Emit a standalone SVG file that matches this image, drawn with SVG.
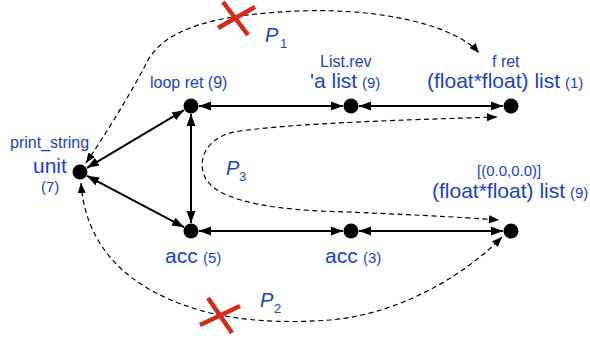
<svg xmlns="http://www.w3.org/2000/svg" width="590" height="343" viewBox="0 0 590 343">
<style>
text{font-family:"Liberation Sans",Arial,sans-serif;fill:#1c3fcc}
.s{font-size:16px}
.b{font-size:21px}
.n{font-size:15px}
.p{font-size:20px;font-style:italic}
.sub{font-size:13px}
.e{stroke:#000;stroke-width:2;fill:none;marker-start:url(#ah);marker-end:url(#ah)}
.d{stroke:#000;stroke-width:1.2;fill:none;stroke-dasharray:5 3.5;marker-start:url(#dh);marker-end:url(#dh)}
.x{stroke:#d42a1a;stroke-width:4.5}
</style>
<defs>
<marker id="ah" markerUnits="userSpaceOnUse" markerWidth="13" markerHeight="10" refX="12" refY="4.5" orient="auto-start-reverse"><path d="M0,0 L12,4.5 L0,9 z" fill="#000"/></marker>
<marker id="dh" markerUnits="userSpaceOnUse" markerWidth="12" markerHeight="9" refX="10" refY="4" orient="auto-start-reverse"><path d="M0,0 L10,4 L0,8 z" fill="#000"/></marker>
</defs>
<g id="connectors">
<line class="e" x1="199" y1="106" x2="343" y2="106"/>
<line class="e" x1="359" y1="106" x2="503" y2="106"/>
<line class="e" x1="87" y1="167.8" x2="184" y2="110.2"/>
<line class="e" x1="191" y1="114" x2="191" y2="223"/>
<line class="e" x1="87" y1="175.8" x2="184" y2="227.2"/>
<line class="e" x1="199" y1="231" x2="343" y2="231"/>
<line class="e" x1="359" y1="231" x2="503" y2="231"/>
<path class="d" d="M86,163 C105,135 130,95 147,62 C165,27 220,14 300,11 C380,8 455,25 479,53"/>
<path class="d" d="M497,117 C400,120 300,123 240,131 C205,136 198,160 204,175 C212,198 260,208 320,211 C400,214 460,217 499,220"/>
<path class="d" d="M81,183 C85,240 120,290 210,313 C250,322 290,323 330,320 C400,314 465,275 502,237"/>
</g>
<g id="cross1"><line class="x" x1="223" y1="2" x2="248" y2="35"/><line class="x" x1="218" y1="28" x2="255" y2="7"/></g>
<g id="cross2"><line class="x" x1="208" y1="298" x2="232" y2="333"/><line class="x" x1="200" y1="325" x2="240" y2="306"/></g>
<g id="label-p1"><text class="p" x="265" y="42">P</text><text class="sub" x="280" y="48">1</text></g>
<g id="label-p2"><text class="p" x="260" y="307">P</text><text class="sub" x="274" y="313">2</text></g>
<g id="label-p3"><text class="p" x="226" y="175">P</text><text class="sub" x="239" y="181">3</text></g>
<g id="unit"><circle cx="80" cy="172" r="7.5"/><text class="s" x="10" y="148">print_string</text><text class="b" x="33" y="173">unit</text><text class="n" x="41" y="192">(7)</text></g>
<g id="loopret"><circle cx="191" cy="106" r="7.5"/><text class="s" x="150" y="88">loop ret (9)</text></g>
<g id="alist"><circle cx="351" cy="106" r="7.5"/><text class="s" x="320" y="67">List.rev</text><text x="310" y="88"><tspan class="b">'a list</tspan><tspan class="n" x="362">(9)</tspan></text></g>
<g id="fret"><circle cx="511" cy="106" r="7.5"/><text class="s" x="492" y="67">f ret</text><text x="427" y="88"><tspan class="b">(float*float) list</tspan><tspan class="n" x="565">(1)</tspan></text></g>
<g id="acc5"><circle cx="191" cy="231" r="7.5"/><text x="165" y="263"><tspan class="b">acc</tspan><tspan class="n" x="203">(5)</tspan></text></g>
<g id="acc3"><circle cx="351" cy="231" r="7.5"/><text x="325" y="263"><tspan class="b">acc</tspan><tspan class="n" x="363">(3)</tspan></text></g>
<g id="flist9"><circle cx="511" cy="231" r="7.5"/><text class="n" x="477" y="176">[(0.0,0.0)]</text><text x="432" y="198"><tspan class="b">(float*float) list</tspan><tspan class="n" x="570">(9)</tspan></text></g>
</svg>
